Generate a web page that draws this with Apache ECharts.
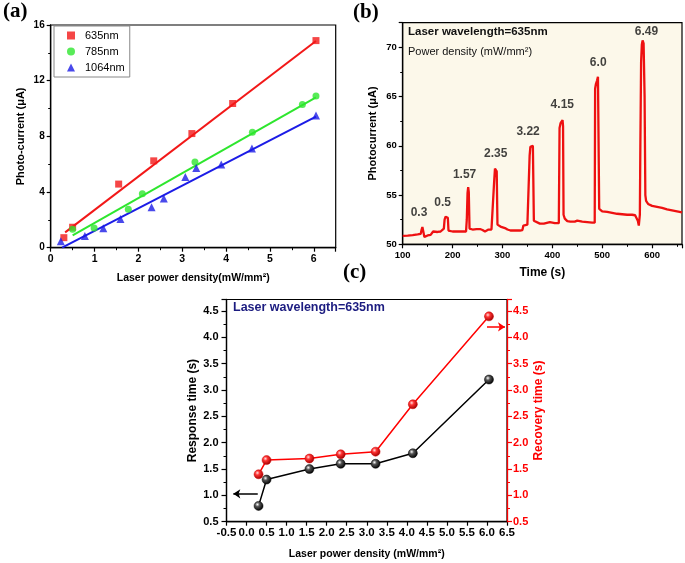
<!DOCTYPE html>
<html><head><meta charset="utf-8">
<script src="https://cdn.jsdelivr.net/npm/echarts@6/dist/echarts.min.js"></script>
<style>html,body{margin:0;padding:0;background:#fff}#c{width:685px;height:563px}</style>
</head><body><div id="c"></div>
<script>
// ---------- Panel (a): photocurrent vs power density ----------
const aX635 = [0.3, 0.5, 1.55, 2.35, 3.22, 4.15, 6.05];
const aY635 = [0.72, 1.47, 4.57, 6.24, 8.2, 10.36, 14.88];
const aX785 = [0.5, 0.99, 1.77, 2.09, 3.29, 4.6, 5.74, 6.05];
const aY785 = [1.33, 1.42, 2.77, 3.88, 6.16, 8.3, 10.29, 10.89];
const aX1064 = [0.23, 0.78, 1.2, 1.59, 2.3, 2.58, 3.07, 3.32, 3.89, 4.59, 6.05];
const aY1064 = [0.47, 0.84, 1.4, 2.06, 2.9, 3.53, 5.08, 5.73, 5.97, 7.12, 9.5];
const fitX635 = [0.33, 6.05], fitY635 = [1.1, 14.85];
const fitX785 = [0.5, 6.05], fitY785 = [0.88, 10.8];
const fitX1064 = [0.26, 6.05], fitY1064 = [0.0, 9.42];
const aNames = ['635nm', '785nm', '1064nm'];

// ---------- Panel (b): photocurrent vs time ----------
const bTime = [100,110,120,130,136,138,139.5,141,142.5,143.5,146,150,156,160,161,165,170,176,180,182.5,184,186,189,190.5,191.8,194,200,210,220,227,228.5,230,231.3,232.5,234,235,240,248,255,260,265,268,272,278,282,283.5,285,287,288.5,290,291.5,296,300,305,310,313,316,325,335,340,342,345,350,353,354.5,356,358,361,362,363,366,375,383,386,395,400,405,413,414.5,416.5,418.5,420.5,421.5,422.5,425,430,436,445,450,460,470,480,485,485.8,487.5,489.5,491.5,493,494,496,500,510,520,530,540,550,560,566,569,571.4,573.4,575.5,576.5,578,579.5,581,583,585,586.5,588,592,600,610,620,630,640,650,660];
const bCurr = [50.85,50.88,50.93,51.0,51.05,51.5,51.75,51.65,51.0,50.75,50.85,50.9,50.95,51.0,51.3,51.3,51.25,51.3,51.35,51.6,52.5,52.8,52.85,52.7,51.4,51.3,51.3,51.3,51.3,51.3,52.5,55.2,55.8,55.3,51.6,51.4,51.5,51.55,51.55,51.45,51.3,51.3,51.5,51.5,51.6,56.5,57.7,57.65,57.4,52.0,51.8,51.8,51.7,51.65,51.5,51.6,51.4,51.4,51.4,51.45,51.9,51.95,52.0,52.1,59.0,59.9,60.0,60.0,59.8,52.4,52.2,52.1,52.1,52.25,52.25,52.2,52.15,52.15,61.8,62.3,62.5,62.6,62.0,53.0,52.6,52.35,52.3,52.3,52.4,52.3,52.25,52.2,52.2,65.8,66.3,66.6,67.0,67.2,53.6,53.4,53.35,53.3,53.2,53.1,53.05,53.0,53.0,52.95,52.8,52.4,51.9,53.0,60.0,68.5,70.3,70.7,70.4,65.0,55.0,54.4,54.1,53.9,53.8,53.7,53.55,53.45,53.35,53.25];
const bLabels = ['0.3','0.5','1.57','2.35','3.22','4.15','6.0','6.49'];
const bLabelT = [132.7, 180, 224.1, 286.4, 351.4, 420, 492, 588.8];
const bLabelV = [53.18, 54.25, 57.03, 59.16, 61.42, 64.18, 68.45, 71.55];

// ---------- Panel (c): response / recovery time ----------
const cPower = [0.3, 0.5, 1.57, 2.35, 3.22, 4.15, 6.05];
const cResponse = [0.8, 1.3, 1.5, 1.6, 1.6, 1.8, 3.2];
const cRecovery = [1.4, 1.67, 1.7, 1.78, 1.83, 2.73, 4.4];
const cArrowLeft = [[0.28, 1.03], [-0.33, 1.03]];
const cArrowRight = [[6.0, 4.2], [6.45, 4.2]];

const zip = (xs, ys) => xs.map((x, i) => [x, ys[i]]);
const FONT = 'Liberation Sans';
const lbl = (extra) => Object.assign({fontFamily: FONT, fontWeight: 'bold', color: '#000', fontSize: 10}, extra || {});
const nameSt = (extra) => Object.assign({fontFamily: FONT, fontWeight: 'bold', color: '#000', fontSize: 11}, extra || {});
const onMultiple = (step, dec) => v => (Math.abs(v / step - Math.round(v / step)) < 1e-6 ? v.toFixed(dec) : '');
const axLine = (c) => ({show: true, onZero: false, lineStyle: {color: c || '#000', width: 1.3}});
const sphere = (hi, mid, dark) => ({type: 'radial', x: 0.38, y: 0.35, r: 0.65,
  colorStops: [{offset: 0, color: hi}, {offset: 0.35, color: mid}, {offset: 1, color: dark}]});

const chart = echarts.init(document.getElementById('c'), null, {renderer: 'canvas'});
chart.setOption({
  animation: false,
  backgroundColor: '#fff',
  textStyle: {fontFamily: FONT},
  grid: [
    {left: 50.7, top: 25, width: 285, height: 222.7, show: true, borderColor: '#000', borderWidth: 1.2},
    {left: 402.7, top: 22.7, width: 284, height: 221.6, show: true, backgroundColor: '#fcf8ea', borderColor: '#000', borderWidth: 1.2},
    {left: 226.5, top: 299.5, width: 280.5, height: 222.2, show: true, borderColor: '#000', borderWidth: 1.2}
  ],
  legend: {
    data: aNames, left: 54, top: 26, orient: 'vertical', itemGap: 5, itemWidth: 8, itemHeight: 8,
    padding: [4, 5, 4, 13], borderColor: '#888', borderWidth: 1, backgroundColor: '#fff',
    textStyle: {fontFamily: FONT, fontSize: 11, color: '#000', padding: [0, 0, 0, 5]}
  },
  xAxis: [
    {gridIndex: 0, type: 'value', min: 0, max: 6.5, interval: 1,
     name: 'Laser power density(mW/mm²)', nameLocation: 'middle', nameGap: 25, nameTextStyle: nameSt({fontSize: 10.5}),
     axisLine: axLine(), axisTick: {show: true, length: 4, lineStyle: {width: 1.2}},
     minorTick: {show: true, splitNumber: 2, length: 2.5, lineStyle: {color: '#000'}},
     axisLabel: lbl({fontSize: 10.5, margin: 6, formatter: onMultiple(1, 0)}), splitLine: {show: false}},
    {gridIndex: 1, type: 'value', min: 100, max: 660, interval: 100,
     name: 'Time (s)', nameLocation: 'middle', nameGap: 22, nameTextStyle: nameSt({fontSize: 12}),
     axisLine: axLine(), axisTick: {show: true, length: 4, lineStyle: {width: 1.2}},
     minorTick: {show: true, splitNumber: 2, length: 2.5, lineStyle: {color: '#000'}},
     axisLabel: lbl({fontSize: 9.5, margin: 6, formatter: onMultiple(100, 0)}), splitLine: {show: false}},
    {gridIndex: 2, type: 'value', min: -0.5, max: 6.5, interval: 0.5,
     name: 'Laser power density (mW/mm²)', nameLocation: 'middle', nameGap: 27, nameTextStyle: nameSt({fontSize: 10.5}),
     axisLine: axLine(), axisTick: {show: true, length: 4, lineStyle: {width: 1.2}},
     axisLabel: lbl({fontSize: 11.5, margin: 5, formatter: onMultiple(0.5, 1)}), splitLine: {show: false}}
  ],
  yAxis: [
    {gridIndex: 0, type: 'value', min: 0, max: 16, interval: 4,
     name: 'Photo-current (μA)', nameLocation: 'middle', nameGap: 24, nameTextStyle: nameSt({fontSize: 11}),
     axisLine: axLine(), axisTick: {show: true, length: 4, lineStyle: {width: 1.2}},
     minorTick: {show: true, splitNumber: 2, length: 2.5, lineStyle: {color: '#000'}},
     axisLabel: lbl({fontSize: 10, margin: 6}), splitLine: {show: false}},
    {gridIndex: 1, type: 'value', min: 50, max: 72.5, interval: 5,
     name: 'Photocurrent (μA)', nameLocation: 'middle', nameGap: 24, nameTextStyle: nameSt({fontSize: 11}),
     axisLine: axLine(), axisTick: {show: true, length: 4, lineStyle: {width: 1.2}},
     minorTick: {show: true, splitNumber: 2, length: 2.5, lineStyle: {color: '#000'}},
     axisLabel: lbl({fontSize: 9.5, margin: 6, formatter: onMultiple(5, 0)}), splitLine: {show: false}},
    {gridIndex: 2, type: 'value', min: 0.5, max: 4.72, interval: 0.5, position: 'left',
     name: 'Response time (s)', nameLocation: 'middle', nameGap: 28, nameTextStyle: nameSt({fontSize: 12}),
     axisLine: axLine(), axisTick: {show: true, length: 5, lineStyle: {width: 1.2}},
     minorTick: {show: true, splitNumber: 2, length: 3, lineStyle: {color: '#000'}},
     axisLabel: lbl({fontSize: 11, margin: 8, formatter: onMultiple(0.5, 1)}), splitLine: {show: false}},
    {gridIndex: 2, type: 'value', min: 0.5, max: 4.72, interval: 0.5, position: 'right', z: 10,
     name: 'Recovery time (s)', nameLocation: 'middle', nameGap: 21, nameTextStyle: nameSt({fontSize: 12, color: '#f00'}),
     axisLine: axLine('#f00'), axisTick: {show: true, length: 5, lineStyle: {width: 1.2, color: '#f00'}},
     minorTick: {show: true, splitNumber: 2, length: 3, lineStyle: {color: '#f00'}},
     axisLabel: lbl({fontSize: 11, margin: 6, color: '#f00', formatter: onMultiple(0.5, 1)}), splitLine: {show: false}}
  ],
  series: [
    {name: aNames[0], type: 'scatter', xAxisIndex: 0, yAxisIndex: 0, symbol: 'rect', symbolSize: 7,
     itemStyle: {color: '#f21818'}, data: zip(aX635, aY635), z: 5},
    {name: aNames[1], type: 'scatter', xAxisIndex: 0, yAxisIndex: 0, symbol: 'circle', symbolSize: 7,
     itemStyle: {color: '#2ee62e'}, data: zip(aX785, aY785), z: 5},
    {name: aNames[2], type: 'scatter', xAxisIndex: 0, yAxisIndex: 0, symbol: 'triangle', symbolSize: 8,
     itemStyle: {color: '#1c1ce6'}, data: zip(aX1064, aY1064), z: 5},
    {type: 'line', xAxisIndex: 0, yAxisIndex: 0, symbol: 'none', lineStyle: {color: '#f21818', width: 2}, data: zip(fitX635, fitY635)},
    {type: 'line', xAxisIndex: 0, yAxisIndex: 0, symbol: 'none', lineStyle: {color: '#2ee62e', width: 2}, data: zip(fitX785, fitY785)},
    {type: 'line', xAxisIndex: 0, yAxisIndex: 0, symbol: 'none', lineStyle: {color: '#1c1ce6', width: 2}, data: zip(fitX1064, fitY1064)},

    {type: 'line', xAxisIndex: 1, yAxisIndex: 1, symbol: 'none', lineStyle: {color: '#ee1111', width: 2.3},
     data: zip(bTime, bCurr)},
    {type: 'scatter', xAxisIndex: 1, yAxisIndex: 1, symbolSize: 0, silent: true,
     label: {show: true, position: 'inside', formatter: p => p.name, fontFamily: FONT, fontWeight: 'bold', fontSize: 12, color: '#111'},
     data: bLabels.map((s, i) => ({name: s, value: [bLabelT[i], bLabelV[i]]}))},

    {type: 'line', xAxisIndex: 2, yAxisIndex: 3, symbol: 'circle', symbolSize: 9,
     lineStyle: {color: '#f00', width: 1.5},
     itemStyle: {color: sphere('#ffe0e0', '#f33', '#a00000'), borderColor: '#c00', borderWidth: 0.5},
     data: zip(cPower, cRecovery),
     markLine: {silent: true, symbol: ['none', 'arrow'], symbolSize: 7, label: {show: false},
       lineStyle: {color: '#f00', width: 1.5, type: 'solid'},
       data: [[{coord: cArrowRight[0]}, {coord: cArrowRight[1]}]]}},
    {type: 'line', xAxisIndex: 2, yAxisIndex: 2, symbol: 'circle', symbolSize: 9,
     lineStyle: {color: '#000', width: 1.5},
     itemStyle: {color: sphere('#ffffff', '#555', '#000'), borderColor: '#000', borderWidth: 0.5},
     data: zip(cPower, cResponse),
     markLine: {silent: true, symbol: ['none', 'arrow'], symbolSize: 7, label: {show: false},
       lineStyle: {color: '#000', width: 1.5, type: 'solid'},
       data: [[{coord: cArrowLeft[0]}, {coord: cArrowLeft[1]}]]}}
  ],
  graphic: [
    {type: 'text', left: 3, top: 1, style: {text: '(a)', font: 'bold 21px "Liberation Serif"', fill: '#000'}},
    {type: 'text', left: 353, top: 2, style: {text: '(b)', font: 'bold 21px "Liberation Serif"', fill: '#000'}},
    {type: 'text', left: 343, top: 262, style: {text: '(c)', font: 'bold 21px "Liberation Serif"', fill: '#000'}},
    {type: 'text', left: 408, top: 26, style: {text: 'Laser wavelength=635nm', font: 'bold 11.5px "Liberation Sans"', fill: '#111'}},
    {type: 'text', left: 408, top: 46, style: {text: 'Power density (mW/mm²)', font: '11px "Liberation Sans"', fill: '#111'}},
    {type: 'text', left: 233, top: 301, style: {text: 'Laser wavelength=635nm', font: 'bold 12.5px "Liberation Sans"', fill: '#1c1c80'}}
  ]
});
</script>
</body></html>
